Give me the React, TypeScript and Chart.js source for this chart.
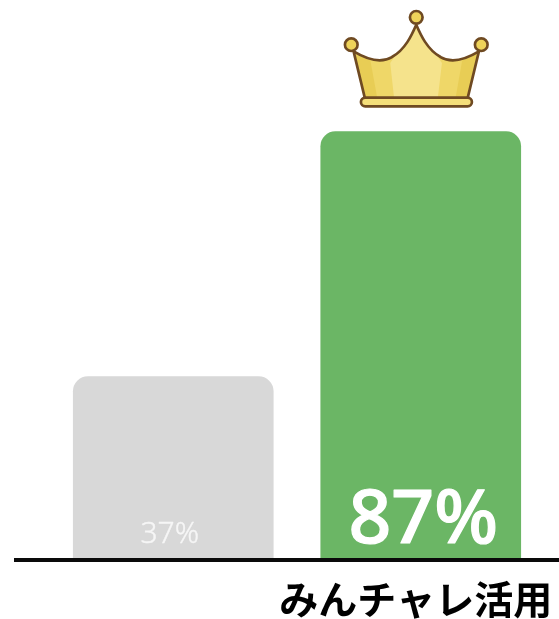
import React, { useEffect, useRef } from "react";
import { Chart, registerables, Plugin } from "chart.js";

Chart.register(...registerables);

const categories = ["", "みんチャレ活用"];
const percentages = [37, 87];
const barColors = ["#d8d8d8", "#6bb665"];
const valueLabelColors = ["#f6f6f6", "#ffffff"];
const valueLabelFonts = [
  '300 30px "Noto Sans", sans-serif',
  '500 75px "Noto Sans", sans-serif',
];
const valueLabelStrokes = [0.4, 1.2];

// Heavy axis line, running past the plot area on both sides.
const baselinePlugin: Plugin<"bar"> = {
  id: "baseline",
  afterDatasetsDraw(chart) {
    const { ctx, scales, width } = chart;
    const y = scales.y.getPixelForValue(0);
    ctx.save();
    ctx.fillStyle = "#0a0a0a";
    ctx.fillRect(14, y, width - 14, 4);
    ctx.restore();
  },
};

// Percentages sit just above the baseline, inside their bars.
const valueLabelPlugin: Plugin<"bar"> = {
  id: "valueLabels",
  afterDatasetsDraw(chart) {
    const { ctx, scales } = chart;
    const baseY = scales.y.getPixelForValue(0);
    ctx.save();
    ctx.textAlign = "center";
    ctx.textBaseline = "alphabetic";
    ctx.lineJoin = "round";
    chart.getDatasetMeta(0).data.forEach((bar, i) => {
      const text = `${percentages[i]}%`;
      const x = bar.x + (i === 1 ? 2.5 : -3.5);
      ctx.font = valueLabelFonts[i];
      ctx.fillStyle = valueLabelColors[i];
      ctx.fillText(text, x, baseY - 15);
      ctx.strokeStyle = valueLabelColors[i];
      ctx.lineWidth = valueLabelStrokes[i];
      ctx.strokeText(text, x, baseY - 15);
    });
    ctx.restore();
  },
};

// Gold crown resting above the tallest bar, in a 516x360 local grid.
const crownPlugin: Plugin<"bar"> = {
  id: "crown",
  afterDatasetsDraw(chart) {
    const { ctx } = chart;
    const meta = chart.getDatasetMeta(0);
    const winner = percentages.indexOf(Math.max(...percentages));
    const bar = meta.data[winner] as unknown as { x: number; y: number };
    const outline = "#6f4a22";
    const outlineWidth = 8;

    const body = () => {
      ctx.beginPath();
      ctx.moveTo(70, 155);
      ctx.bezierCurveTo(115, 182, 155, 190, 185, 172);
      ctx.bezierCurveTo(225, 150, 245, 105, 258, 75);
      ctx.bezierCurveTo(271, 105, 291, 150, 331, 172);
      ctx.bezierCurveTo(361, 190, 401, 182, 446, 155);
      ctx.lineTo(412, 296);
      ctx.lineTo(104, 296);
      ctx.closePath();
    };
    const panel = (pts: number[][], color: string) => {
      ctx.fillStyle = color;
      ctx.beginPath();
      pts.forEach(([px, py], k) => (k ? ctx.lineTo(px, py) : ctx.moveTo(px, py)));
      ctx.closePath();
      ctx.fill();
    };
    const ball = (cx: number, cy: number) => {
      ctx.beginPath();
      ctx.arc(cx, cy, 19, 0, Math.PI * 2);
      ctx.fillStyle = "#eed35a";
      ctx.fill();
      ctx.lineWidth = outlineWidth;
      ctx.strokeStyle = outline;
      ctx.stroke();
    };

    ctx.save();
    ctx.translate(bar.x - 90.5, bar.y - 132);
    ctx.scale(1 / 3, 1 / 3);
    ctx.lineJoin = "round";

    ctx.save();
    body();
    ctx.clip();
    ctx.fillStyle = "#e8cd55";
    ctx.fillRect(0, 0, 516, 360);
    panel([[118, 170], [398, 170], [375, 300], [142, 300]], "#efd768");
    panel([[180, 190], [258, 75], [335, 190], [322, 300], [192, 300]], "#f5e38c");
    ctx.restore();

    body();
    ctx.lineWidth = outlineWidth;
    ctx.strokeStyle = outline;
    ctx.stroke();

    ball(63, 135);
    ball(453, 135);
    ball(258, 53);

    ctx.beginPath();
    ctx.roundRect(92, 294, 333, 26, 13);
    ctx.fillStyle = "#f5df7a";
    ctx.fill();
    ctx.lineWidth = outlineWidth;
    ctx.strokeStyle = outline;
    ctx.stroke();
    ctx.restore();
  },
};

export default function App() {
  const canvasRef = useRef<HTMLCanvasElement>(null);

  useEffect(() => {
    if (!canvasRef.current) return;
    const chart = new Chart(canvasRef.current, {
      type: "bar",
      data: {
        labels: categories,
        datasets: [
          {
            data: percentages,
            backgroundColor: barColors,
            barThickness: 200,
            borderRadius: { topLeft: 15, topRight: 15, bottomLeft: 0, bottomRight: 0 },
            borderSkipped: false,
          },
        ],
      },
      options: {
        responsive: false,
        animation: false,
        layout: { padding: { left: 49.5, right: 14.5, top: 68, bottom: 0 } },
        plugins: { legend: { display: false }, tooltip: { enabled: false } },
        scales: {
          y: { display: false, min: 0, max: 100 },
          x: {
            grid: { display: false },
            border: { display: false },
            afterFit: (scale) => {
              scale.height = 61;
              scale.paddingLeft = 0;
              scale.paddingRight = 0;
            },
            ticks: {
              color: "#000000",
              padding: 10,
              labelOffset: -5,
              maxRotation: 0,
              autoSkip: false,
              font: { family: '"Noto Sans CJK JP", sans-serif', size: 39, weight: "bold" },
            },
          },
        },
      },
      plugins: [baselinePlugin, valueLabelPlugin, crownPlugin],
    });
    return () => chart.destroy();
  }, []);

  return (
    <div style={{ position: "absolute", left: 0, top: 0, width: 559, height: 619, background: "#ffffff" }}>
      <canvas ref={canvasRef} width={559} height={619} style={{ display: "block" }} />
    </div>
  );
}
